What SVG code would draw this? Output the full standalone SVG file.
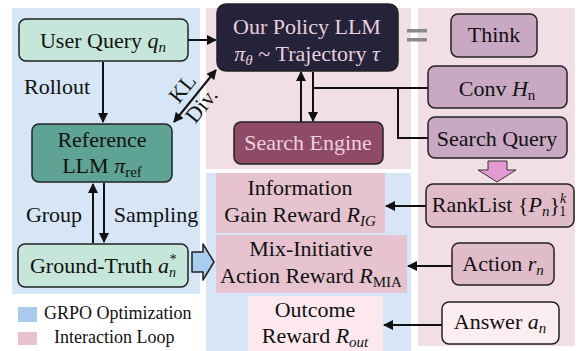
<svg xmlns="http://www.w3.org/2000/svg" width="578" height="351" viewBox="0 0 578 351">
<defs>
<style>
text{font-family:"Liberation Serif","Times New Roman",serif;font-size:22px;fill:#111;text-anchor:middle}
text.leg{font-size:18px;text-anchor:start}
.lt{fill:#ecd0de}
.i{font-style:italic}
.node{stroke:#222;stroke-width:1.5}
.ln{stroke:#111;stroke-width:2;fill:none}
.ar{stroke:#111;stroke-width:2;fill:none;marker-end:url(#ah)}
</style>
<marker id="ah" viewBox="0 0 10 10" refX="9" refY="5" markerWidth="5" markerHeight="5" orient="auto-start-reverse" markerUnits="strokeWidth">
<path d="M0,0 L10,5 L0,10 z" fill="#111"/>
</marker>
</defs>
<rect width="578" height="351" fill="#fff"/>
<g id="panels">
<rect x="12" y="8" width="188" height="286" fill="#d6e6f6"/>
<rect x="206" y="8" width="205" height="161" fill="#f2dfe5"/>
<rect x="206" y="173" width="205" height="178" fill="#d6e6f6"/>
<rect x="418" y="8" width="157" height="338" fill="#f2dfe5"/>
</g>
<g id="connectors">
<line class="ar" x1="188" y1="40" x2="216" y2="40"/>
<line class="ar" x1="103" y1="62" x2="103" y2="122"/>
<line class="ar" x1="216" y1="70" x2="174" y2="122" marker-start="url(#ah)"/>
<line class="ar" x1="301" y1="122" x2="301" y2="72"/>
<line class="ar" x1="313" y1="72" x2="313" y2="121"/>
<polyline class="ln" points="313,88 428,88"/>
<polyline class="ln" points="398,88 398,138 428,138"/>
<line class="ar" x1="93" y1="243" x2="93" y2="184"/>
<line class="ar" x1="104" y1="183" x2="104" y2="242"/>
<line class="ar" x1="426" y1="206" x2="386" y2="206"/>
<line class="ar" x1="452" y1="266" x2="408" y2="266"/>
<line class="ar" x1="442" y1="325" x2="384" y2="325"/>
<path d="M192,252 H203 V244 L214,262 L203,280 V272 H192 Z" fill="#a9cdef" stroke="#222" stroke-width="1.5" stroke-linejoin="round"/>
<path d="M488,161 H507 V170 H516 L497,182 L478,170 H488 Z" fill="#e59ad6" stroke="#333" stroke-width="1"/>
<rect x="407" y="29" width="20" height="3.5" fill="#8a8a8a"/>
<rect x="407" y="38" width="20" height="3.5" fill="#8a8a8a"/>
</g>
<g id="labels">
<text x="57" y="94">Rollout</text>
<text x="54" y="222">Group</text>
<text x="156" y="222">Sampling</text>
<text transform="translate(188,93) rotate(-51)">KL</text>
<text transform="translate(207,110) rotate(-51)">Div.</text>
</g>
<g id="user-query">
<rect class="node" x="19" y="19" width="169" height="42" rx="7" fill="#c6e6da"/>
<text x="103" y="48">User Query <tspan class="i">q</tspan><tspan class="i" font-size="15" dy="4">n</tspan></text>
</g>
<g id="reference-llm">
<rect class="node" x="32" y="124" width="140" height="58" rx="7" fill="#5fa394"/>
<text x="102" y="147">Reference</text>
<text x="102" y="173">LLM <tspan class="i">π</tspan><tspan font-size="15" dy="4">ref</tspan></text>
</g>
<g id="ground-truth">
<rect class="node" x="18" y="244" width="170" height="43" rx="7" fill="#c6e6da"/>
<text x="103" y="273">Ground-Truth <tspan class="i">a</tspan><tspan class="i" font-size="14" dy="-9">*</tspan><tspan class="i" font-size="14" dx="-7" dy="13">n</tspan></text>
</g>
<g id="policy-llm">
<rect class="node" x="217" y="4" width="181" height="67" rx="9" fill="#25233a"/>
<text class="lt" x="307" y="34">Our Policy LLM</text>
<text class="lt" x="307" y="61"><tspan class="i">π</tspan><tspan class="i" font-size="15" dy="4">θ</tspan><tspan dy="-4"> ~ Trajectory </tspan><tspan class="i">τ</tspan></text>
</g>
<g id="search-engine">
<rect class="node" x="234" y="122" width="149" height="42" rx="7" fill="#8f4a67"/>
<text class="lt" x="308" y="150">Search Engine</text>
</g>
<g id="think">
<rect class="node" x="451" y="14" width="86" height="43" rx="7" fill="#c9a8c4"/>
<text x="494" y="42">Think</text>
</g>
<g id="conv">
<rect class="node" x="428" y="66" width="139" height="42" rx="7" fill="#c9a8c4"/>
<text x="497" y="96">Conv <tspan class="i">H</tspan><tspan font-size="15" dy="4">n</tspan></text>
</g>
<g id="search-query">
<rect class="node" x="428" y="117" width="139" height="41" rx="7" fill="#c9a8c4"/>
<text x="497" y="146">Search Query</text>
</g>
<g id="ranklist">
<rect class="node" x="426" y="184" width="148" height="43" rx="7" fill="#e0bccb"/>
<text x="499" y="212">RankList {<tspan class="i">P</tspan><tspan class="i" font-size="15" dy="4">n</tspan><tspan dy="-4">}</tspan><tspan class="i" font-size="14" dy="-9">k</tspan><tspan font-size="14" dx="-7" dy="13">1</tspan></text>
</g>
<g id="action">
<rect class="node" x="452" y="243" width="102" height="42" rx="7" fill="#e0bccb"/>
<text x="503" y="271">Action <tspan class="i">r</tspan><tspan class="i" font-size="15" dy="4">n</tspan></text>
</g>
<g id="answer">
<rect class="node" x="442" y="302" width="117" height="42" rx="7" fill="#fcedf0"/>
<text x="500" y="329">Answer <tspan class="i">a</tspan><tspan class="i" font-size="15" dy="4">n</tspan></text>
</g>
<g id="info-gain-reward">
<rect x="216" y="173" width="169" height="60" fill="#e6c3cf"/>
<text x="300" y="195">Information</text>
<text x="300" y="222">Gain Reward <tspan class="i">R</tspan><tspan class="i" font-size="15" dy="4">IG</tspan></text>
</g>
<g id="mia-reward">
<rect x="216" y="235" width="191" height="58" fill="#e6c3cf"/>
<text x="311" y="256">Mix-Initiative</text>
<text x="311" y="283">Action Reward <tspan class="i">R</tspan><tspan font-size="15" dy="4">MIA</tspan></text>
</g>
<g id="outcome-reward">
<rect x="248" y="296" width="135" height="55" fill="#fde9ed"/>
<text x="315" y="317">Outcome</text>
<text x="315" y="343">Reward <tspan class="i">R</tspan><tspan class="i" font-size="15" dy="4">out</tspan></text>
</g>
<g id="legend">
<rect x="18" y="307" width="19" height="15" fill="#a9cbee"/>
<text class="leg" x="44" y="319">GRPO Optimization</text>
<rect x="18" y="332" width="19" height="13" fill="#e6c3cf"/>
<text class="leg" x="54" y="343">Interaction Loop</text>
</g>
</svg>
